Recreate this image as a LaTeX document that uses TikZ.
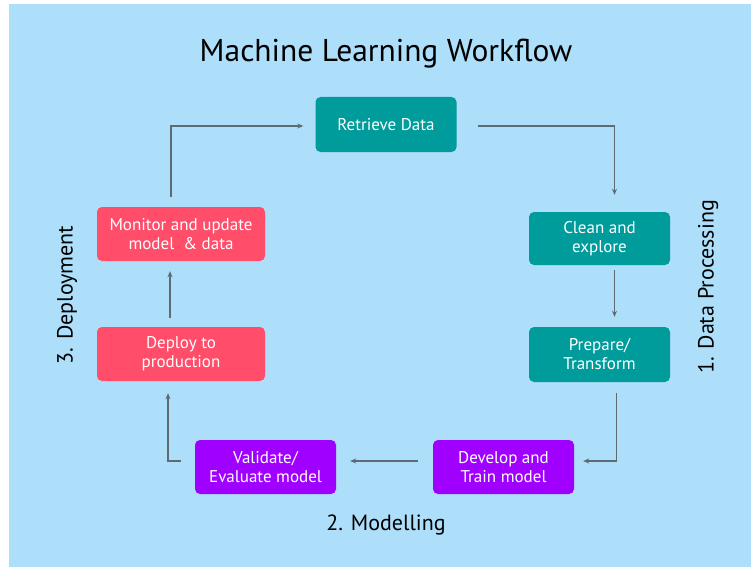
\documentclass[tikz,border=0pt]{standalone}
\usepackage{fontspec}
\setmainfont{PT Sans}
\usetikzlibrary{arrows.meta}
\definecolor{skyback}{HTML}{ADDEFA}
\definecolor{tealbox}{HTML}{009B9B}
\definecolor{redbox}{HTML}{FF4D6A}
\definecolor{purplebox}{HTML}{A000FF}
\definecolor{linkgray}{HTML}{5F6B73}
\tikzset{
  stage/.style={rounded corners=5pt, align=center, text=white,
    font=\fontsize{17}{19}\selectfont, inner sep=0pt},
  tealstage/.style={stage, fill=tealbox, minimum width=141pt},
  redstage/.style={stage, fill=redbox, minimum width=168pt, minimum height=54pt},
  purplestage/.style={stage, fill=purplebox, minimum width=141pt, minimum height=54pt},
  link/.style={draw=linkgray, line width=1.4pt,
    -{Stealth[length=6pt,width=5pt]}},
  phase/.style={font=\fontsize{22}{24}\selectfont, text=black}
}
\begin{document}
\begin{tikzpicture}[x=1pt,y=-1pt]
  % page and sky-blue panel
  \fill[white] (0,0) rectangle (751,567);
  \fill[skyback] (9,4) rectangle (751,567);
  \useasboundingbox (0,0) rectangle (751,567);

  \node[font=\fontsize{31.5}{33}\selectfont] (title) at (386,54) {Machine Learning Workflow};

  % stages
  \node[tealstage, minimum height=55pt] (retrieve) at (386,124.5) {Retrieve Data};
  \node[tealstage, minimum height=53pt] (clean) at (599.5,238.5) {Clean and\\explore};
  \node[tealstage, minimum height=55pt] (prepare) at (599.5,354.5) {Prepare/\\Transform};
  \node[purplestage] (develop) at (503.5,467) {Develop and\\Train model};
  \node[purplestage] (validate) at (265.5,467) {Validate/\\Evaluate model};
  \node[redstage] (deploy) at (181,354) {Deploy to\\production};
  \node[redstage] (monitor) at (181,234) {Monitor and update\\model\ \ \& data};

  % phase labels
  \node[phase, rotate=90] (dataproc) at (708,287) {1. Data Processing};
  \node[phase] (modelling) at (386,525) {2. Modelling};
  \node[phase, rotate=90] (deployment) at (67,295) {3. Deployment};

  % connectors
  \draw[link, shorten <=21pt, shorten >=17pt]
    ([yshift=-1.5pt]retrieve.east) -| ([xshift=15pt]clean.north);
  \draw[link, shorten <=5pt, shorten >=10pt]
    ([xshift=15pt]clean.south) -- ([xshift=15pt]prepare.north);
  \draw[link, shorten <=11pt, shorten >=9pt]
    ([xshift=17pt]prepare.south) |- ([yshift=6pt]develop.east);
  \draw[link, shorten <=15pt, shorten >=14pt]
    ([yshift=6pt]develop.west) -- ([yshift=6pt]validate.east);
  \draw[link, shorten <=14pt, shorten >=12pt]
    ([yshift=6pt]validate.west) -| ([xshift=-13pt]deploy.south);
  \draw[link, shorten <=9pt, shorten >=10pt]
    ([xshift=-11pt]deploy.north) -- ([xshift=-11pt]monitor.south);
  \draw[link, shorten <=10pt, shorten >=12pt]
    ([xshift=-10pt]monitor.north) |- ([yshift=-1.5pt]retrieve.west);
\end{tikzpicture}
\end{document}
